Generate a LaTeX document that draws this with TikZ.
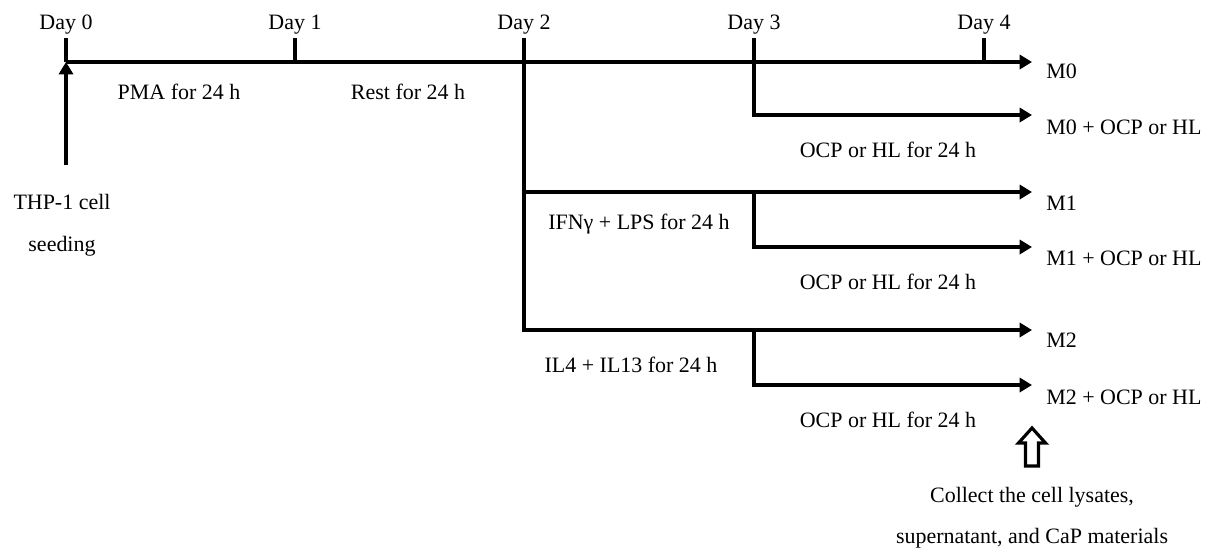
\documentclass[tikz,border=0pt]{standalone}
\usepackage{fontspec}
\setmainfont{Liberation Serif}
\usetikzlibrary{arrows.meta}

\tikzset{
  line/.style={line width=2.1pt},
  flow/.style={line width=2.1pt,-{Triangle[length=7pt,width=8pt]}},
  lbl/.style={font=\fontsize{12.5}{15}\selectfont, inner sep=0pt},
}

\begin{document}
\begin{tikzpicture}[x=0.02cm,y=-0.02cm]
    \useasboundingbox (0,0) rectangle (1215,552);

    % Days on the time line
    \foreach \x/\n in {66/0,295/1,524/2,754/3,984/4}{
        \coordinate (d\n) at (\x,62);
        \coordinate (t\n) at (\x,38);
        \draw[line] (d\n) -- (t\n);
        \node[lbl, anchor=base] (day\n) at (\x,29) {Day \n};
    }
    \coordinate (m0end) at (1032,62);
    \draw[flow] (d0) -- (m0end);

    % Seeding
    \coordinate (seed) at (66,165);
    \draw[flow] (seed) -- (d0);
    \node[lbl] (thp) at (62,202) {THP-1 cell};
    \node[lbl, anchor=base] (seeding) at (62,251) {seeding};
    \node[lbl] (pma) at (179,92) {PMA for 24 h};
    \node[lbl] (rest) at (408,92) {Rest for 24 h};

    % Branches
    \coordinate (b0end) at (1032,115);
    \coordinate (m1) at (524,192);
    \coordinate (m1end) at (1032,192);
    \coordinate (b1) at (754,192);
    \coordinate (b1end) at (1032,247);
    \coordinate (m2end) at (1032,330);
    \coordinate (b2) at (754,330);
    \coordinate (b2end) at (1032,385);
    \draw[flow] (d3) |- (b0end);
    \draw[flow] (d2) |- (m2end);
    \draw[flow] (m1) -- (m1end);
    \draw[flow] (b1) |- (b1end);
    \draw[flow] (b2) |- (b2end);

    % Treatments
    \node[lbl] (ocp0) at (888,150) {OCP or HL for 24 h};
    \node[lbl, anchor=base] (ifn) at (639,229) {IFNγ + LPS for 24 h};
    \node[lbl] (ocp1) at (888,282) {OCP or HL for 24 h};
    \node[lbl] (il) at (631,365) {IL4 + IL13 for 24 h};
    \node[lbl] (ocp2) at (888,420) {OCP or HL for 24 h};

    % Outcomes
    \node[lbl, anchor=west] (M0) at (1046,71) {M0};
    \node[lbl, anchor=west] (M0x) at (1046,127) {M0 + OCP or HL};
    \node[lbl, anchor=west] (M1) at (1046,203) {M1};
    \node[lbl, anchor=west] (M1x) at (1046,258) {M1 + OCP or HL};
    \node[lbl, anchor=west] (M2) at (1046,340) {M2};
    \node[lbl, anchor=west] (M2x) at (1046,397) {M2 + OCP or HL};

    % Collection
    \coordinate (up) at (1032,428);
    \draw[line width=1.8pt] (up) -- ++(13.5,15) -- ++(-7,0) -- ++(0,23) -- ++(-13,0)
        -- ++(0,-23) -- ++(-7,0) -- cycle;
    \node[lbl, anchor=base] (col1) at (1032,502) {Collect the cell lysates,};
    \node[lbl, anchor=base] (col2) at (1032,543) {supernatant, and CaP materials};
\end{tikzpicture}
\end{document}
